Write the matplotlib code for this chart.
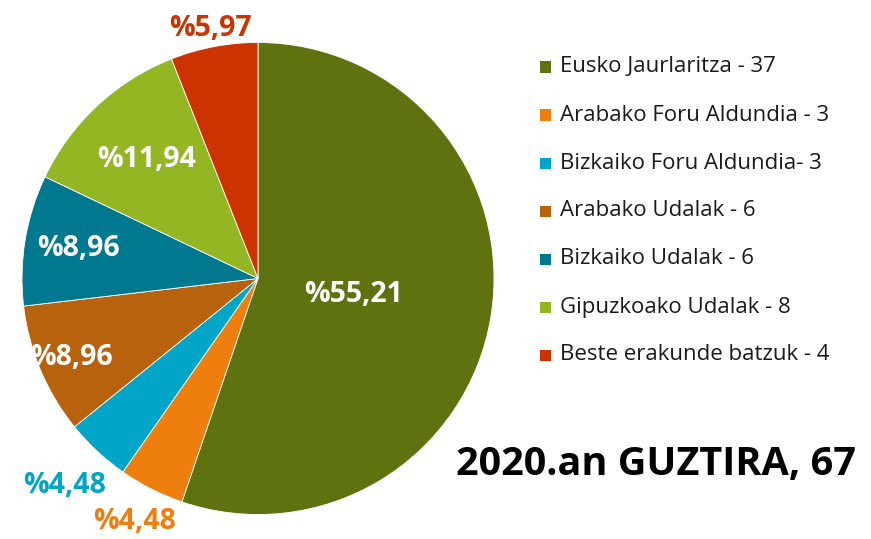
import matplotlib
matplotlib.use("Agg")
import matplotlib.pyplot as plt
from matplotlib.patches import Rectangle
import numpy as np

plt.rcParams['font.family'] = ['Open Sans', 'DejaVu Sans']

categories = ["Eusko Jaurlaritza - 37", "Arabako Foru Aldundia - 3", "Bizkaiko Foru Aldundia- 3",
              "Arabako Udalak - 6", "Bizkaiko Udalak - 6", "Gipuzkoako Udalak - 8",
              "Beste erakunde batzuk - 4"]
values = [37, 3, 3, 6, 6, 8, 4]
pct_labels = ["%55,21", "%4,48", "%4,48", "%8,96", "%8,96", "%11,94", "%5,97"]
title = "2020.an GUZTIRA, 67"

colors = ["#5E7210", "#EE7F0E", "#00A5C7", "#B8620D", "#00788F", "#93B622", "#CC3300"]
label_colors = ["white", "#EE7F0E", "#00A5C7", "white", "white", "white", "#CC3300"]
label_dist = [0.41, 1.155, 1.20, 0.86, 0.77, 0.69, 1.08]

W, H = 871, 539
fig = plt.figure(figsize=(W / 100, H / 100), dpi=100)
cx, cy, r = 258, 278.5, 236
ax = fig.add_axes([(cx - r) / W, (H - cy - r) / H, 2 * r / W, 2 * r / H])
wedges, _ = ax.pie(values, colors=colors, startangle=90, counterclock=False,
                   radius=1, wedgeprops=dict(edgecolor="white", linewidth=0.6))
ax.set_xlim(-1, 1)
ax.set_ylim(-1, 1)
ax.set_aspect("auto")
ax.axis("off")

for w, lab, col, d in zip(wedges, pct_labels, label_colors, label_dist):
    ang = np.deg2rad((w.theta1 + w.theta2) / 2)
    ax.text(d * np.cos(ang), d * np.sin(ang), lab, color=col, fontsize=20.5,
            fontweight="bold", ha="center", va="center", clip_on=False)

# legend
y0, dy = 67, 48
for i, (cat, col) in enumerate(zip(categories, colors)):
    yc = y0 + i * dy
    sq = 11
    fig.patches.append(Rectangle(((540) / W, (H - yc - sq / 2) / H), sq / W, sq / H,
                                 transform=fig.transFigure, facecolor=col, edgecolor="none"))
    fig.text(560 / W, (H - yc) / H, cat, fontsize=16, color="#1a1a1a",
             ha="left", va="center")

fig.text(656 / W, (H - 465) / H, title, fontsize=28.5, fontweight="bold",
         ha="center", va="center", color="black")

fig.savefig("out.png", dpi=100)
